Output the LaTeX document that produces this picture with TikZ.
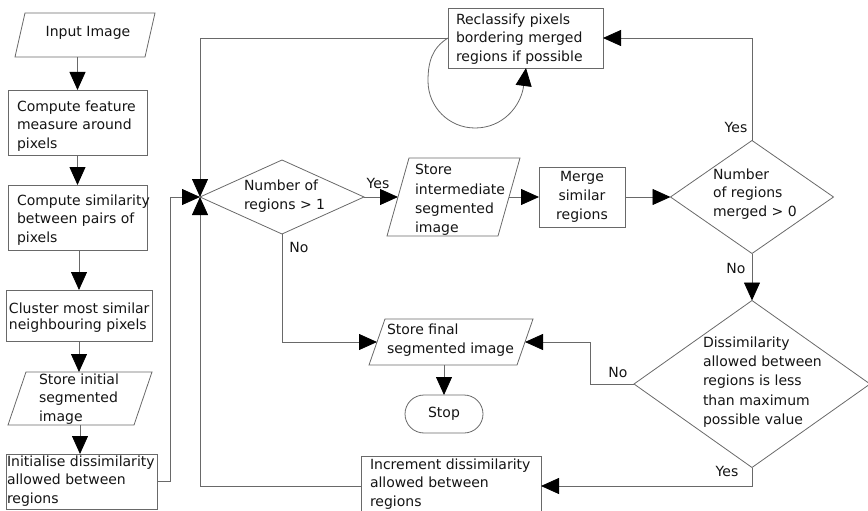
\documentclass[tikz,border=0pt]{standalone}
\usepackage{fontspec}
\setmainfont{DejaVu Sans}
\usetikzlibrary{shapes.geometric,arrows.meta,calc}
\definecolor{lncol}{RGB}{105,105,105}
\definecolor{txtcol}{RGB}{20,20,20}
\newcommand\pgramdraw[2]{\draw[ln] ([xshift=#2pt]#1.north west) -- (#1.north east) -- ([xshift=-#2pt]#1.south east) -- (#1.south west) -- cycle;}
\begin{document}
\begin{tikzpicture}[x=1pt,y=-1pt,
  every node/.style={inner sep=0pt, outer sep=0pt},
  ln/.style={draw=lncol, line width=0.8pt},
  arr/.style={ln, -{Triangle[length=18pt,width=16pt,color=black]}},
  rbox/.style 2 args={rectangle, draw=lncol, line width=0.8pt, minimum width=#1, minimum height=#2},
  pg/.style 2 args={rectangle, minimum width=#1, minimum height=#2},
  dia/.style 2 args={diamond, draw=lncol, line width=0.8pt, minimum width=#1, minimum height=#2},
  txt/.style={font=\fontsize{14}{18.8}\selectfont, align=left, text=txtcol, anchor=west},
  lbl/.style={font=\fontsize{14}{17}\selectfont, text=txtcol},
]
\useasboundingbox (0,0) rectangle (868,511);

% ---------- left column ----------
\node[pg={140pt}{44pt}] (inp) at (85,35) {};
\pgramdraw{inp}{10}
\node[lbl] (tinp) at (88,33) {Input Image};

\node[rbox={139pt}{65pt}] (feat) at (77.5,122.5) {};
\node[txt] (tfeat) at (17,126) {Compute feature\\measure around\\pixels};

\node[rbox={139pt}{65pt}] (sim) at (77.5,217.5) {};
\node[txt] (tsim) at (17,220) {Compute similarity\\between pairs of\\pixels};

\node[rbox={146pt}{51pt}] (clus) at (79,315.5) {};
\node[txt, font=\fontsize{14}{16}\selectfont] (tclus) at (9,318) {Cluster most similar\\neighbouring pixels};

\node[pg={144pt}{53pt}] (sinit) at (80,398.5) {};
\pgramdraw{sinit}{18}
\node[txt] (tsinit) at (39,399) {Store initial\\segmented\\image};

\node[rbox={151pt}{55pt}] (init) at (81.5,481.5) {};
\node[txt] (tinit) at (7,481) {Initialise dissimilarity\\allowed between\\regions};

% ---------- main loop ----------
\node[rbox={155pt}{60pt}] (recl) at (525.5,38) {};
\node[txt] (trecl) at (456,39) {Reclassify pixels\\bordering merged\\regions if possible};

\node[dia={164pt}{74pt}] (d1) at (282,197) {};
\node[txt] (td1) at (244,196) {Number of\\regions > 1};

\node[pg={133pt}{78pt}] (smid) at (453.5,197) {};
\pgramdraw{smid}{22}
\node[txt, font=\fontsize{14}{19.3}\selectfont] (tsmid) at (415,200) {Store\\intermediate\\segmented\\image};

\node[rbox={86pt}{60pt}] (merge) at (582,197) {};
\node[lbl, align=center, font=\fontsize{14}{19}\selectfont] (tmerge) at (582,197) {Merge\\similar\\regions};

\node[dia={163pt}{113pt}] (d2) at (752,197) {};
\node[txt] (td2) at (713,194) {Number\\of regions\\merged > 0};

\node[dia={236pt}{167pt}] (d3) at (752,384) {};
\node[txt, font=\fontsize{14}{19.2}\selectfont] (td3) at (703,382) {Dissimilarity\\allowed between\\regions is less\\than maximum\\possible value};

\node[pg={164pt}{46pt}] (sfin) at (451,342) {};
\pgramdraw{sfin}{16}
\node[txt] (tsfin) at (387,340) {Store final\\segmented image};

\node[rectangle, draw=lncol, line width=0.8pt, rounded corners=19pt, minimum width=78pt, minimum height=38pt, font=\fontsize{14}{17}\selectfont, text=txtcol] (stop) at (444,414) {Stop};

\node[rbox={180pt}{60pt}] (inc) at (451,486) {};
\node[txt] (tinc) at (370,484) {Increment dissimilarity\\allowed between\\regions};

% ---------- connectors ----------
\draw[arr] (inp.south -| feat.north) -- (feat.north);
\draw[arr] (feat.south) -- (sim.north);
\draw[arr] (sim.south -| clus.north) -- (clus.north);
\draw[arr] (clus.south) -- (clus.south |- sinit.north);
\draw[arr] (sinit.south) -- (sinit.south |- init.north);
\draw[arr] (init.east) -- ++(13,0) |- (d1.west);

\draw[arr] (recl.west) -| (d1.west);
\draw[arr] (inc.west) -| (d1.west);
\draw[arr] (recl.west) .. controls (432,48) and (428,62) .. (428,81)
  .. controls (428,107) and (449,128) .. (475,128)
  .. controls (503,128) and (521,106) .. (526,68);

\draw[arr] (d1.east) -- ([xshift=11pt]smid.west);
\draw[arr] ([xshift=-11pt]smid.east) -- (merge.west);
\draw[arr] (merge.east) -- (d2.west);
\draw[arr] (d2.north) |- (recl.east);
\draw[arr] (d2.south) -- (d3.north);
\draw[arr] (d3.west) -- ++(-44,0) |- ([xshift=-8pt]sfin.east);
\draw[arr] (d3.south) |- (inc.east);
\draw[arr] (d1.south) |- ([xshift=8pt]sfin.west);
\draw[arr] (sfin.south -| stop.north) -- (stop.north);

% ---------- labels ----------
\node[lbl] (lyes1) at (378,183) {Yes};
\node[lbl] (lno1) at (299,247) {No};
\node[lbl] (lyes2) at (736,127) {Yes};
\node[lbl] (lno2) at (736,268) {No};
\node[lbl] (lno3) at (618,372) {No};
\node[lbl] (lyes3) at (727,471) {Yes};
\end{tikzpicture}
\end{document}
